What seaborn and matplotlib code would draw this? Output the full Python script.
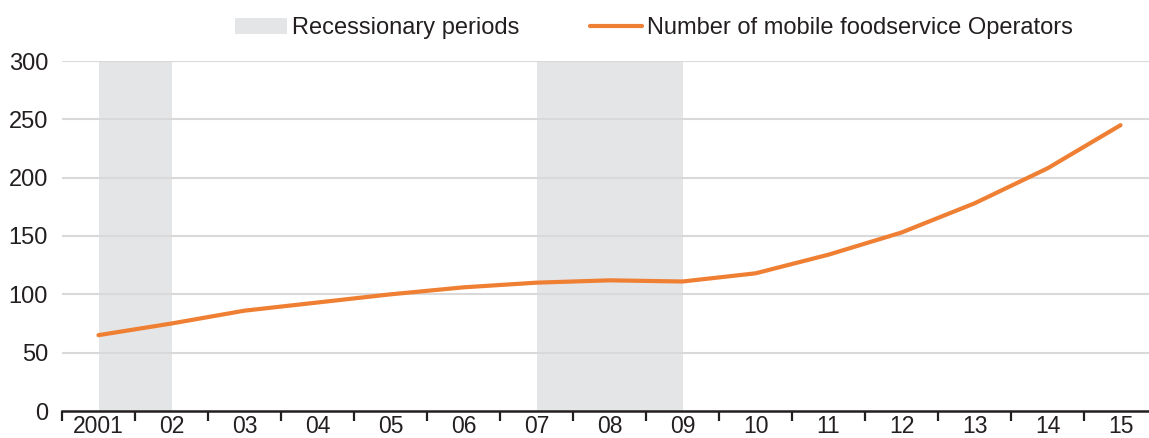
import matplotlib
matplotlib.use("Agg")
import matplotlib.pyplot as plt
from matplotlib.patches import Patch
from matplotlib.lines import Line2D
from matplotlib.ticker import FixedLocator
import seaborn as sns
import pandas as pd
import numpy as np

# Data
year_labels = ["2001", "02", "03", "04", "05", "06", "07", "08", "09",
               "10", "11", "12", "13", "14", "15"]
operators = [65, 75, 86, 93, 100, 106, 110, 112, 111, 118, 134, 153, 178, 208, 245]
recessions = [("2001", "02"), ("07", "09")]
y_ticks = [0, 50, 100, 150, 200, 250, 300]

ORANGE = "#EF7F32"
BAND = "#E4E5E7"
GRID = "#D9D9D9"
TEXT = "#231F20"

sns.set_theme(style="white")
plt.rcParams["font.family"] = ["Liberation Sans", "DejaVu Sans"]

fig = plt.figure(figsize=(11.49, 4.38), dpi=100)
ax = fig.add_axes([62 / 1149, 1 - 411 / 438, 1 - 62 / 1149, (411 - 61) / 438])

df = pd.DataFrame({"pos": np.arange(len(year_labels)), "value": operators})

# Recession shading between category centres
for start, end in recessions:
    ax.axvspan(year_labels.index(start), year_labels.index(end),
               color=BAND, lw=0, zorder=0)

# Horizontal grid lines
for yv in y_ticks[1:]:
    ax.axhline(yv, color=GRID, lw=1.5, zorder=0.5)

sns.lineplot(data=df, x="pos", y="value", color=ORANGE, lw=3.0,
             solid_capstyle="round", ax=ax, zorder=3)

ax.set_xlim(-0.5, 14.39)
ax.set_ylim(0, 300)
ax.set_xlabel("")
ax.set_ylabel("")

ax.set_xticks(df["pos"])
ax.set_xticklabels(year_labels)
ax.xaxis.set_minor_locator(FixedLocator(np.arange(-0.5, 15, 1)))
ax.tick_params(axis="x", which="major", length=0, pad=3,
               labelsize=16.5, labelcolor=TEXT)
ax.tick_params(axis="x", which="minor", length=7, width=1.6,
               color=TEXT, direction="out", bottom=True)

ax.set_yticks(y_ticks)
ax.tick_params(axis="y", length=0, pad=10, labelsize=17, labelcolor=TEXT)

for side in ["top", "right", "left"]:
    ax.spines[side].set_visible(False)
ax.spines["bottom"].set_color(TEXT)
ax.spines["bottom"].set_linewidth(1.8)

handles = [Patch(facecolor=BAND, edgecolor="none"),
           Line2D([0], [0], color=ORANGE, lw=3.0)]
labels = ["Recessionary periods", "Number of mobile foodservice Operators"]
fig.legend(handles, labels, ncol=2, loc="center",
           bbox_to_anchor=(654 / 1149, 1 - 28 / 438), frameon=False,
           fontsize=17, labelcolor=TEXT, handlelength=2.2,
           handleheight=0.65, handletextpad=0.2, columnspacing=3.0)

fig.savefig("out.png", dpi=100, facecolor="white")
